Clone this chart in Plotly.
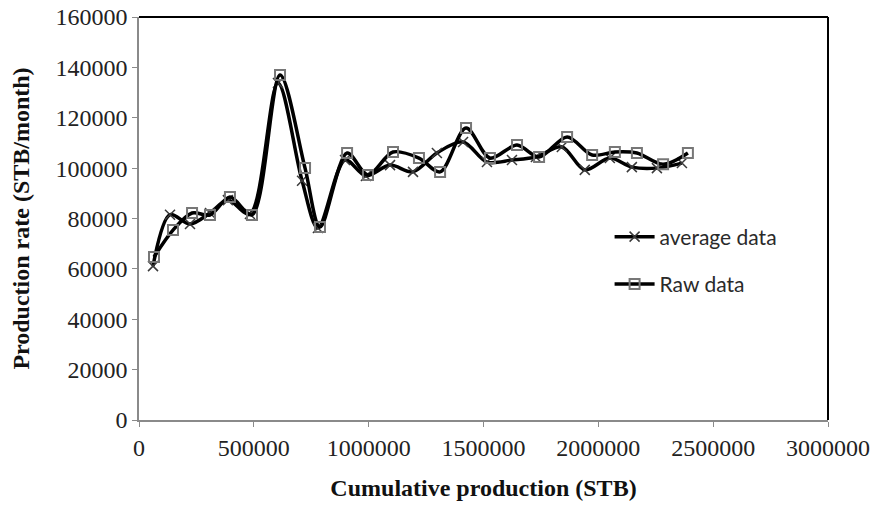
import plotly.graph_objects as go

# Cumulative production (STB) and monthly rate (STB/month)
raw_cum = [65300, 148000, 231000, 309000, 396000, 492000, 614000, 723000,
           788000, 906000, 997000, 1106000, 1219000, 1311000, 1424000, 1528000,
           1646000, 1742000, 1864000, 1973000, 2072000, 2168000, 2282000, 2390000]
raw_rate = [64700, 75400, 82200, 81400, 88500, 81400, 137000, 100000,
            76600, 106000, 97300, 106400, 104000, 98500, 115900, 104000,
            109200, 104400, 112400, 105200, 106400, 106000, 101500, 106000]

avg_cum = [61000, 135000, 222000, 309000, 387000, 483000, 605000, 710000,
           779000, 897000, 988000, 1093000, 1193000, 1297000, 1411000, 1515000,
           1624000, 1728000, 1841000, 1941000, 2050000, 2146000, 2255000, 2364000]
avg_rate = [61100, 81500, 77800, 82200, 87300, 81800, 133800, 95000,
            76200, 103200, 96900, 101200, 98500, 106000, 110400, 102400,
            103200, 104400, 108400, 99300, 104000, 100400, 100000, 102000]

x_ticks = [0, 500000, 1000000, 1500000, 2000000, 2500000, 3000000]
y_ticks = [0, 20000, 40000, 60000, 80000, 100000, 120000, 140000, 160000]

fig = go.Figure()

fig.add_trace(go.Scatter(
    x=avg_cum, y=avg_rate, name="average data", mode="lines+markers",
    line=dict(color="black", width=3.5, shape="spline", smoothing=0.9),
    marker=dict(symbol="x-thin", size=10, color="#3a3a3a",
                line=dict(color="#3a3a3a", width=1.5)),
    legendgroup="a",
))
fig.add_trace(go.Scatter(
    x=raw_cum, y=raw_rate, name="Raw data", mode="lines+markers",
    line=dict(color="black", width=3.5, shape="spline", smoothing=0.9),
    marker=dict(symbol="square-open", size=10, color="#777777",
                line=dict(color="#777777", width=2)),
    legendgroup="b",
))

serif = "Liberation Serif, Times New Roman, serif"

fig.update_layout(
    width=879, height=506,
    margin=dict(l=139, r=51, t=17, b=86),
    paper_bgcolor="white", plot_bgcolor="white",
    showlegend=True,
    legend=dict(
        x=0.683, y=0.505, xanchor="left", yanchor="top",
        bgcolor="rgba(0,0,0,0)", tracegroupgap=17,
        font=dict(family="Lato, Open Sans, sans-serif", size=21, color="#2a2a2a"),
        itemwidth=40,
    ),
    xaxis=dict(
        range=[0, 3000000], tickvals=x_ticks, tickformat="d",
        showgrid=False, zeroline=False, automargin=False,
        showline=True, linecolor="#8a8a8a", linewidth=1.5,
        ticks="outside", ticklen=5, tickcolor="#8a8a8a",
        tickfont=dict(family=serif, size=24, color="#222222"),
        title=dict(text="<b>Cumulative production (STB)</b>",
                   font=dict(family=serif, size=24, color="#111111"), standoff=20),
    ),
    yaxis=dict(
        range=[0, 160000], tickvals=y_ticks, tickformat="d",
        showgrid=False, zeroline=False, automargin=False,
        showline=True, linecolor="#8a8a8a", linewidth=1.5,
        ticks="outside", ticklen=5, tickcolor="#8a8a8a",
        tickfont=dict(family=serif, size=24, color="#222222"),
        title=dict(text="<b>Production rate (STB/month)</b>",
                   font=dict(family=serif, size=24, color="#111111"), standoff=19),
    ),
    shapes=[
        dict(type="line", xref="paper", yref="paper", x0=0, x1=1, y0=1, y1=1,
             line=dict(color="black", width=2)),
        dict(type="line", xref="paper", yref="paper", x0=1, x1=1, y0=0, y1=1,
             line=dict(color="black", width=2)),
    ],
)

fig.write_html("out.html")
